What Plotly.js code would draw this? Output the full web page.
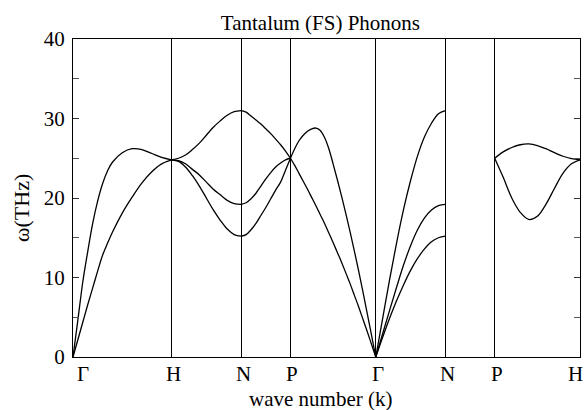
<!DOCTYPE html>
<html>
<head>
<meta charset="utf-8">
<script src="https://cdn.plot.ly/plotly-3.0.1.min.js"></script>
<style>
  html, body { margin: 0; padding: 0; background: #fff; }
  #chart { width: 586px; height: 410px; }
</style>
</head>
<body>
<div id="chart"></div>
<script>
// High-symmetry points of the bcc Brillouin zone along the path, and their
// cumulative path distance (units of 2π/a).
const kLabels = ['Γ', 'H', 'N', 'P', 'Γ', 'N', 'P', 'H'];
const kPos = [0, 1.0, 1.7071, 2.2071, 3.0731, 3.7802, 4.2802, 5.1463];

// Γ → H : fraction along the segment and branch frequencies (THz)
const tGH = [0, 0.05, 0.1, 0.15, 0.2, 0.25, 0.3, 0.35, 0.4, 0.5, 0.6, 0.7, 0.8, 0.9, 1];
const wGH_upper = [0, 4.7, 9.5, 13.3, 16.8, 19.6, 21.8, 23.4, 24.5, 25.7, 26.2, 26.1, 25.6, 25.1, 24.8];
const wGH_lower = [0, 2.2, 4.4, 6.6, 8.7, 10.8, 12.8, 14.3, 15.7, 18.1, 20.1, 21.9, 23.3, 24.3, 24.8];

// H → N
const tHN = [0, 0.1, 0.2, 0.3, 0.4, 0.5, 0.6, 0.7, 0.8, 0.9, 1];
const wHN_top = [24.8, 25.0, 25.4, 26.1, 26.9, 27.9, 28.9, 29.7, 30.4, 30.85, 31.0];
const wHN_mid = [24.8, 24.7, 24.3, 23.6, 22.9, 22.0, 21.1, 20.4, 19.7, 19.3, 19.2];
const wHN_low = [24.8, 24.6, 23.9, 22.8, 21.5, 20.0, 18.5, 17.2, 16.1, 15.4, 15.2];

// N → P
const tNP = [0, 0.1, 0.2, 0.3, 0.4, 0.5, 0.6, 0.7, 0.8, 0.9, 1];
const wNP_top = [31.0, 30.8, 30.3, 29.8, 29.3, 28.7, 28.1, 27.4, 26.7, 25.9, 25.0];
const wNP_mid = [19.2, 19.4, 19.9, 20.6, 21.5, 22.4, 23.2, 23.9, 24.4, 24.8, 25.0];
const wNP_low = [15.2, 15.4, 16.0, 16.8, 17.8, 18.8, 19.9, 21.0, 22.0, 23.5, 25.0];

// P → Γ
const tPG = [0, 0.05, 0.1, 0.15, 0.2, 0.25, 0.3, 0.35, 0.4, 0.45, 0.5, 0.55, 0.6, 0.65, 0.7, 0.75, 0.8, 0.85, 0.9, 0.95, 1];
const wPG_upper = [25.0, 26.2, 27.2, 27.9, 28.4, 28.7, 28.8, 28.5, 27.6, 26.2, 24.3, 22.3, 20.2, 18.0, 15.7, 13.3, 10.8, 8.2, 5.5, 2.75, 0];
const wPG_lower = [25.0, 24.1, 23.1, 22.1, 21.1, 20.05, 19.0, 17.9, 16.8, 15.6, 14.4, 13.15, 11.9, 10.55, 9.2, 7.75, 6.3, 4.75, 3.2, 1.6, 0];

// Γ → N
const tGN = [0, 0.1, 0.2, 0.3, 0.4, 0.5, 0.6, 0.7, 0.8, 0.9, 1];
const wGN_top = [0, 4.9, 9.8, 14.4, 18.6, 22.2, 25.3, 27.7, 29.4, 30.6, 31.0];
const wGN_mid = [0, 2.95, 5.9, 8.8, 11.6, 14.0, 16.0, 17.5, 18.5, 19.05, 19.2];
const wGN_low = [0, 2.5, 4.9, 7.1, 9.1, 10.9, 12.4, 13.6, 14.5, 15.0, 15.2];

// P → H
const tPH = [0, 0.1, 0.2, 0.3, 0.4, 0.5, 0.6, 0.7, 0.8, 0.9, 1];
const wPH_upper = [25.0, 25.8, 26.35, 26.7, 26.8, 26.6, 26.2, 25.7, 25.25, 24.95, 24.8];
const wPH_lower = [25.0, 22.6, 20.0, 18.2, 17.3, 17.7, 19.2, 21.2, 23.1, 24.3, 24.8];

// Each segment runs between two high-symmetry points (indices into kPos).
const segments = [
  { from: 0, to: 1, t: tGH, branches: [wGH_upper, wGH_lower] },
  { from: 1, to: 2, t: tHN, branches: [wHN_top, wHN_mid, wHN_low] },
  { from: 2, to: 3, t: tNP, branches: [wNP_top, wNP_mid, wNP_low] },
  { from: 3, to: 4, t: tPG, branches: [wPG_upper, wPG_lower] },
  { from: 4, to: 5, t: tGN, branches: [wGN_top, wGN_mid, wGN_low] },
  { from: 6, to: 7, t: tPH, branches: [wPH_upper, wPH_lower] }
];

const serif = 'Liberation Serif, Times New Roman, serif';

const traces = [];
segments.forEach(seg => {
  const k0 = kPos[seg.from], k1 = kPos[seg.to];
  const kx = seg.t.map(t => k0 + t * (k1 - k0));
  seg.branches.forEach(w => {
    traces.push({
      x: kx,
      y: w,
      type: 'scatter',
      mode: 'lines',
      line: { color: '#000', width: 1.3, shape: 'spline', smoothing: 1 },
      hoverinfo: 'skip',
      showlegend: false
    });
  });
});

// Symmetry-point labels under the axis; the two end labels are kept
// inside the frame edges.
const last = kLabels.length - 1;
const pointLabels = kLabels.map((lab, i) => ({
  text: lab,
  x: kPos[i], xref: 'x',
  y: 0, yref: 'paper',
  xanchor: i === 0 ? 'left' : (i === last ? 'right' : 'center'),
  xshift: i === 0 ? 2 : (i === last ? 5 : 2),
  yanchor: 'top', yshift: -3,
  showarrow: false,
  font: { family: serif, size: 21, color: '#000' }
}));

const xTitle = {
  text: 'wave number (k)',
  x: 0.488, xref: 'paper', xanchor: 'center',
  y: 0, yref: 'paper', yanchor: 'top', yshift: -28,
  showarrow: false,
  font: { family: serif, size: 21, color: '#000' }
};

const yTitle = {
  text: 'ω(THz)',
  textangle: -90,
  x: 0, xref: 'paper', xanchor: 'center', xshift: -52,
  y: 0.5, yref: 'paper', yanchor: 'middle', yshift: -10,
  showarrow: false,
  font: { family: serif, size: 22, color: '#000' }
};

const layout = {
  width: 586,
  height: 410,
  margin: { l: 73, r: 6, t: 39, b: 53 },
  paper_bgcolor: '#fff',
  plot_bgcolor: '#fff',
  font: { family: serif, size: 21, color: '#000' },
  title: {
    text: 'Tantalum (FS) Phonons',
    font: { family: serif, size: 21, color: '#000' },
    x: 0.488, xref: 'paper', xanchor: 'center',
    y: 1, yref: 'paper', yanchor: 'bottom',
    pad: { b: 9 }
  },
  xaxis: {
    range: [kPos[0], kPos[last]],
    tickmode: 'array',
    tickvals: kPos,
    ticktext: kLabels,
    showticklabels: false,
    ticks: '',
    showgrid: true,
    gridcolor: '#000',
    gridwidth: 1,
    zeroline: false,
    showline: true,
    linecolor: '#000',
    linewidth: 1,
    mirror: true
  },
  yaxis: {
    range: [0, 40],
    tick0: 0,
    dtick: 10,
    ticks: 'inside',
    ticklen: 6,
    tickcolor: '#333',
    minor: { dtick: 5, ticks: 'inside', ticklen: 6, tickcolor: '#555' },
    showgrid: false,
    zeroline: false,
    showline: true,
    linecolor: '#000',
    linewidth: 1,
    mirror: 'ticks',
    tickfont: { family: serif, size: 21, color: '#000' },
    ticklabelstandoff: 3
  },
  annotations: pointLabels.concat([xTitle, yTitle])
};

Plotly.newPlot('chart', traces, layout, { displayModeBar: false, staticPlot: true });
</script>
</body>
</html>
